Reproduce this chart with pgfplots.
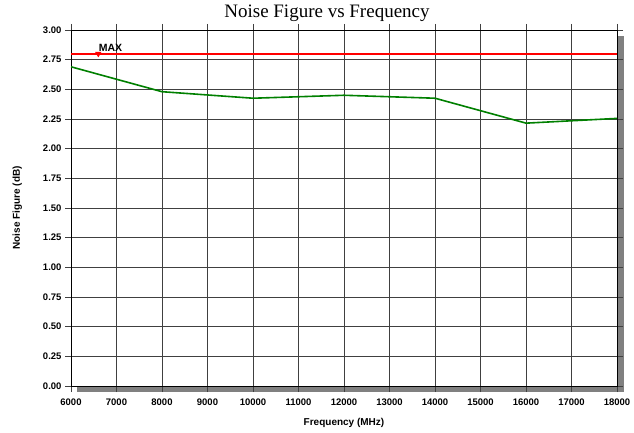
\documentclass[border=0pt]{standalone}
\usepackage{pgfplots}
\pgfplotsset{compat=1.18}
\usepackage{fontspec}
\setmainfont{Liberation Sans}
\newfontfamily\titlefont{Liberation Serif}
\definecolor{nfgreen}{RGB}{0,128,0}
\definecolor{shadowgray}{RGB}{128,128,128}
\begin{document}
\begin{tikzpicture}
\fill[shadowgray] (6pt,-6.5pt) rectangle (552.5pt,350pt);
\begin{axis}[
  name=ax,
  at={(0,0)}, anchor=south west,
  scale only axis,
  width=546pt, height=356pt,
  xmin=6000, xmax=18000,
  ymin=0, ymax=3,
  xtick={6000,7000,...,18000},
  ytick={0,0.25,...,3.0},
  scaled ticks=false,
  grid=major,
  major grid style={black!75, line width=0.6pt},
  axis line style={black, line width=0.6pt},
  tick align=outside,
  tick style={black!75, line width=0.6pt},
  major tick length=6pt,
  axis background/.style={fill=white},
  /pgf/number format/assume math mode=true,
  xticklabel style={font=\bfseries\fontsize{9.5}{10}\selectfont, /pgf/number format/set thousands separator={}, yshift=-3pt},
  yticklabel style={font=\bfseries\fontsize{9.5}{10}\selectfont, /pgf/number format/fixed, /pgf/number format/fixed zerofill, /pgf/number format/precision=2},
  xlabel={Frequency (MHz)},
  ylabel={Noise Figure (dB)},
  xlabel style={font=\bfseries\fontsize{10}{11}\selectfont, yshift=-6pt},
  ylabel style={font=\bfseries\fontsize{10}{11}\selectfont, yshift=14pt},
  title={\titlefont\fontsize{19}{20}\selectfont Noise Figure vs Frequency},
  title style={at={(0.5,1)}, anchor=base, yshift=6pt, xshift=-17pt},
  clip=false,
]
\addplot[red, line width=1.6pt] coordinates {(6000,2.8) (18000,2.8)};
\addplot[nfgreen, line width=1.6pt] coordinates {
(6000,2.69) (8000,2.48) (10000,2.425) (12000,2.45) (14000,2.425) (16000,2.215) (18000,2.255)};
\addplot[red, only marks, mark=triangle*, mark size=3.2pt, mark options={rotate=180},
  nodes near coords={MAX}, every node near coord/.style={black, font=\bfseries\fontsize{10.5}{11}\selectfont, anchor=south west, xshift=-3pt, yshift=-1pt}]
  coordinates {(6600,2.8)};
\end{axis}
\pgfresetboundingbox
\path (-71pt,-47pt) rectangle (563pt,386pt);
\end{tikzpicture}
\end{document}
